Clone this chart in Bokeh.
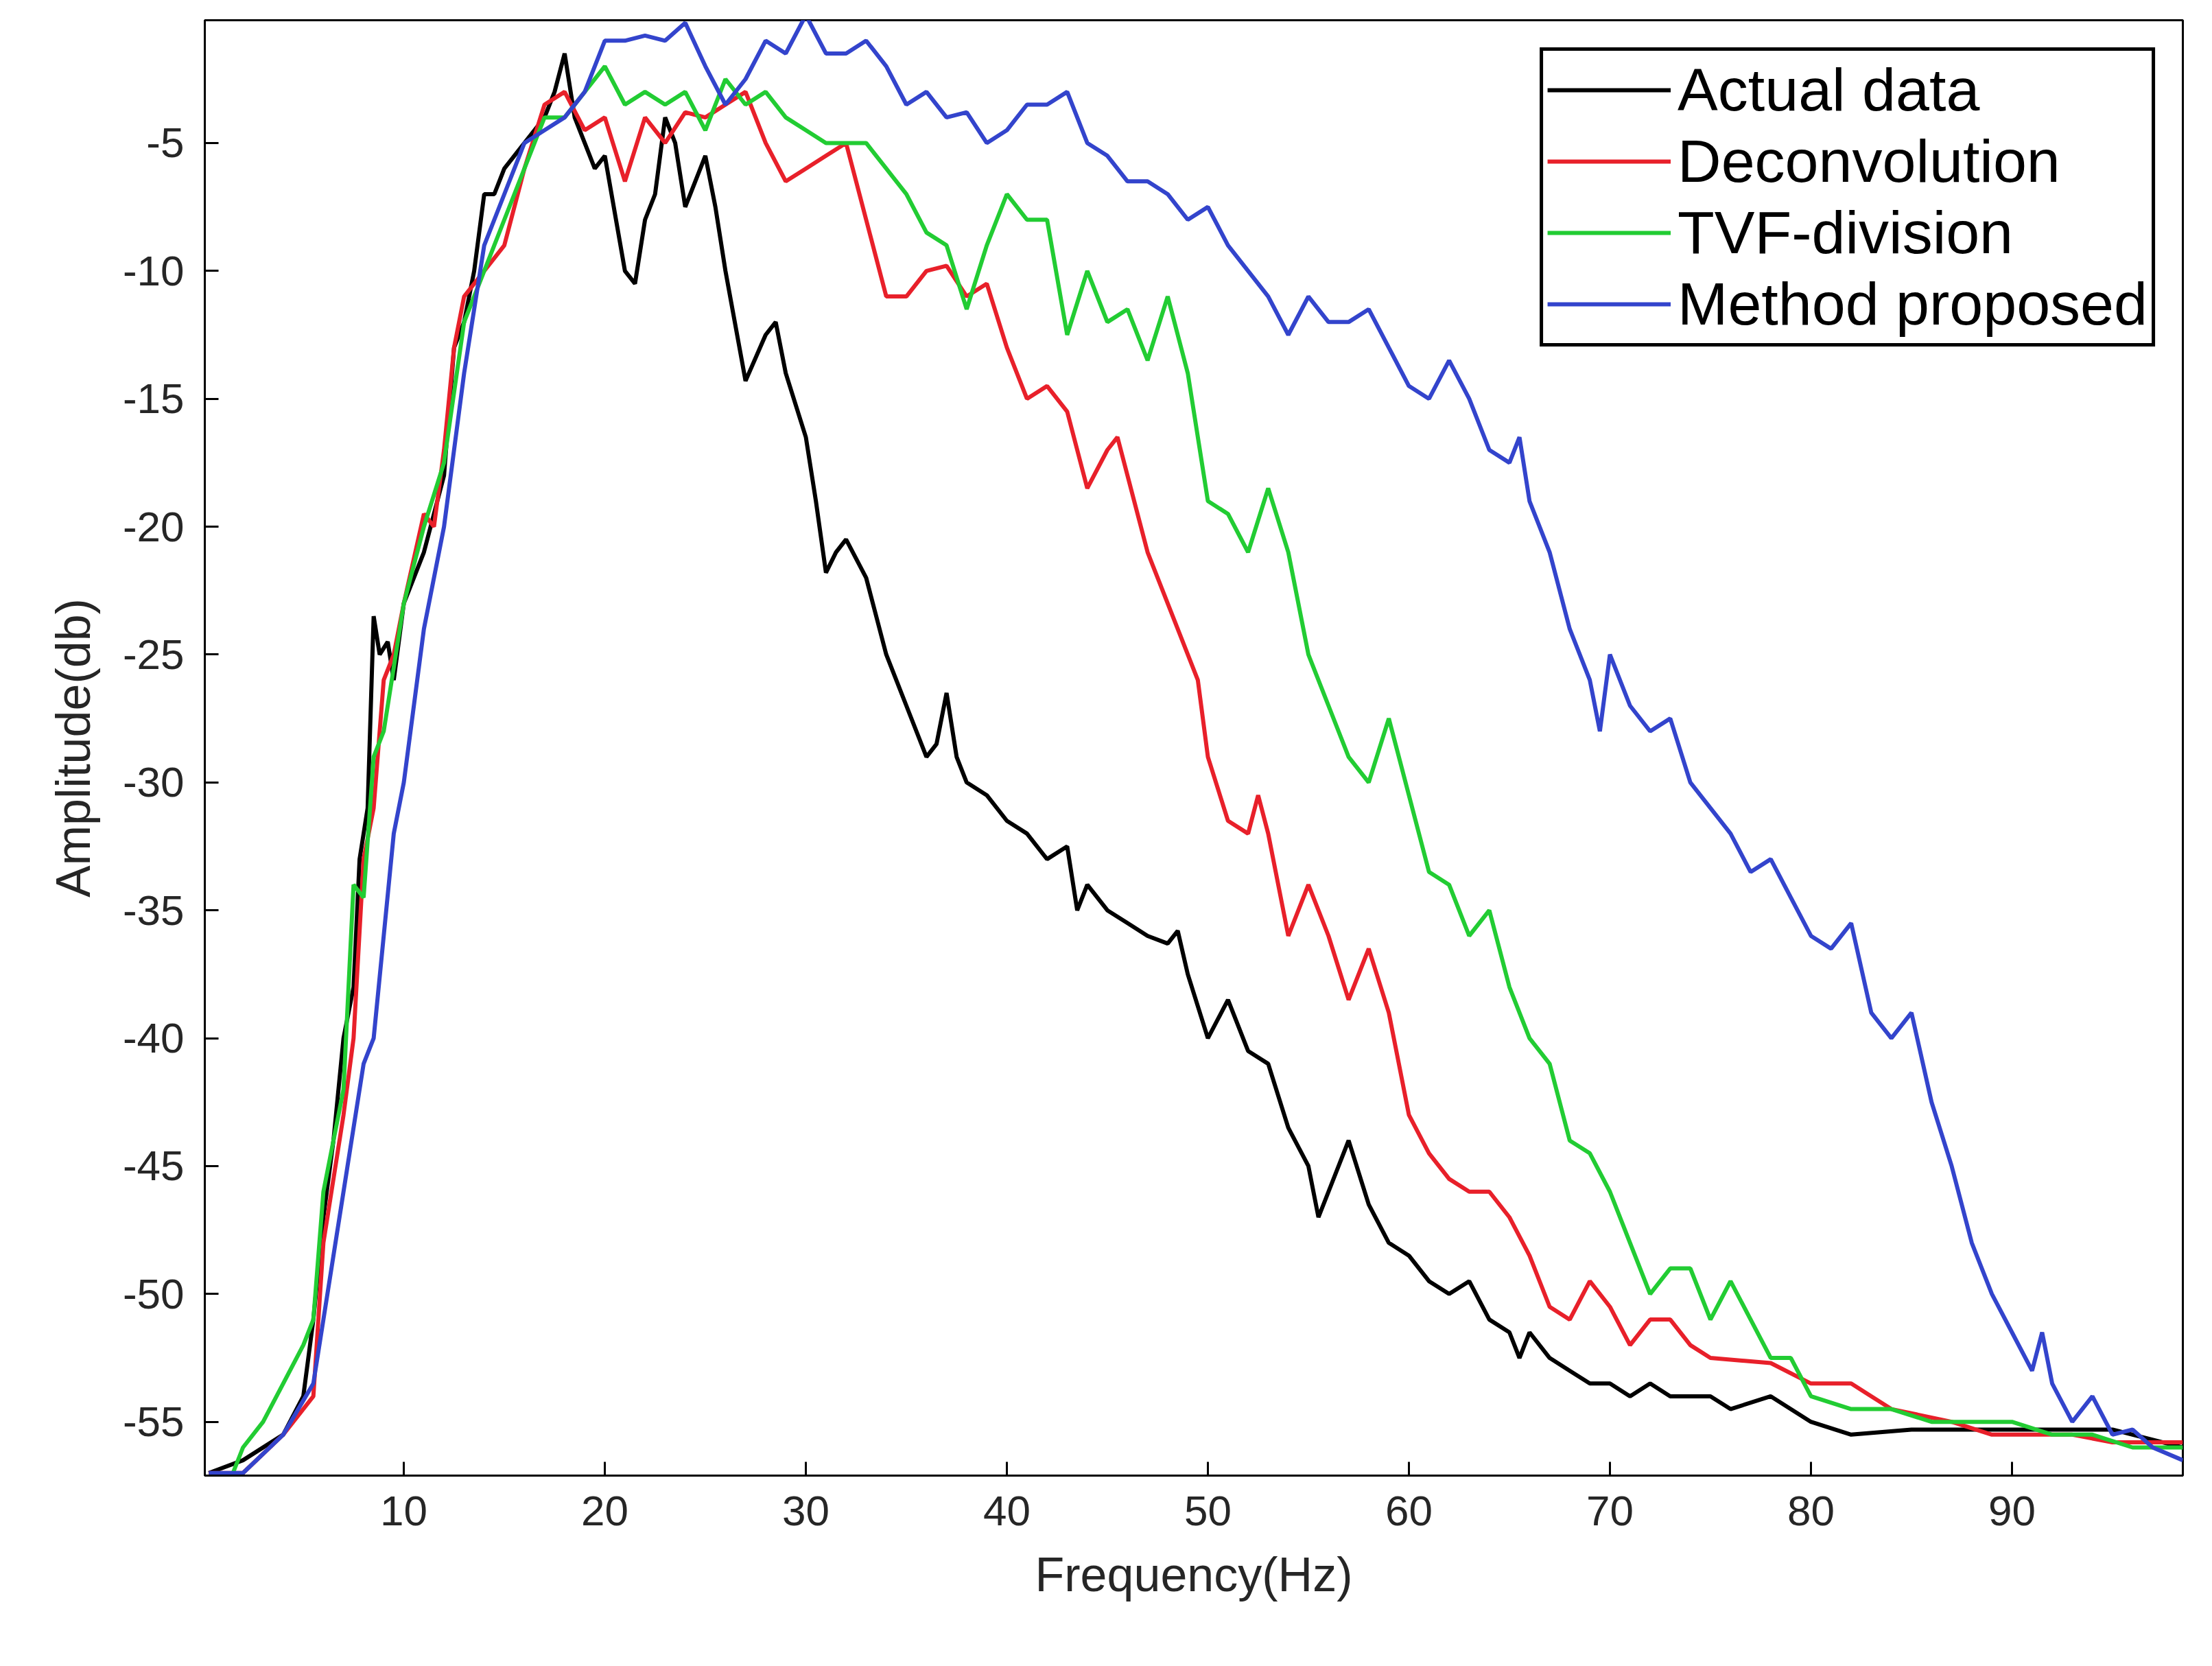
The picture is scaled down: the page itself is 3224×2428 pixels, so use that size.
from bokeh.plotting import figure
from bokeh.models import Range1d, Legend, LegendItem, FixedTicker, CustomJSTickFormatter
from bokeh.embed import file_html
from bokeh.resources import INLINE

act_x = [0.3,2,4,5,5.5,6,6.5,7,7.5,7.8,8.2,8.5,8.8,9.2,9.5,10,11,12,12.5,13,13.5,14,14.5,15,16,17,17.5,18,18.5,19,19.5,20,21,21.5,22,22.5,23,23.5,24,24.5,25,25.5,26,27,28,28.5,29,30,30.5,31,31.5,32,33,34,35,36,36.5,37,37.5,38,39,40,41,42,43,43.5,44,45,46,47,48,48.5,49,50,51,52,53,54,55,55.5,56,57,58,59,60,61,62,63,64,65,65.5,66,67,68,69,70,71,72,73,75,76,78,80,82,85,90,95,98.5]
act_y = [-57,-56.5,-55.5,-54,-51,-47,-44,-40,-38,-33,-31,-23.5,-25,-24.5,-26,-23,-21,-18,-13,-12,-10,-7,-7,-6,-5,-4,-3,-1.5,-4,-5,-6,-5.5,-10,-10.5,-8,-7,-4,-5,-7.5,-6.5,-5.5,-7.5,-10,-14.3,-12.5,-12,-14,-16.5,-19,-21.8,-21,-20.5,-22,-25,-27,-29,-28.5,-26.5,-29,-30,-30.5,-31.5,-32,-33,-32.5,-35,-34,-35,-35.5,-36,-36.3,-35.8,-37.5,-40,-38.5,-40.5,-41,-43.5,-45,-47,-46,-44,-46.5,-48,-48.5,-49.5,-50,-49.5,-51,-51.5,-52.5,-51.5,-52.5,-53,-53.5,-53.5,-54,-53.5,-54,-54,-54.5,-54,-55,-55.5,-55.3,-55.3,-55.3,-56]

dec_x = [0.3,2,4,5.5,6,7,7.5,8,8.5,9,9.5,10,11,11.5,12,12.5,13,14,15,16,17,18,19,20,21,22,23,24,25,26,27,28,29,30,31,32,33,34,35,36,37,38,39,40,41,42,43,44,45,45.5,46,47,48,49,49.5,50,51,52,52.5,53,54,55,56,57,58,59,60,61,62,63,64,65,66,67,68,69,70,71,72,73,74,75,78,80,82,84,87,89,91,93,95,98.5]
dec_y = [-57,-57,-55.5,-54,-48,-43,-40,-33,-31,-26,-25,-23,-19.5,-20,-17,-13,-11,-10,-9,-6,-3.5,-3,-4.5,-4,-6.5,-4,-5,-3.8,-4,-3.5,-3,-5,-6.5,-6,-5.5,-5,-8,-11,-11,-10,-9.8,-11,-10.5,-13,-15,-14.5,-15.5,-18.5,-17,-16.5,-18,-21,-23,-25,-26,-29,-31.5,-32,-30.5,-32,-36,-34,-36,-38.5,-36.5,-39,-43,-44.5,-45.5,-46,-46,-47,-48.5,-50.5,-51,-49.5,-50.5,-52,-51,-51,-52,-52.5,-52.7,-53.5,-53.5,-54.5,-55,-55.5,-55.5,-55.5,-55.8,-55.8]

tvf_x = [0.3,1.5,2,3,4,5,5.5,6,7,7.5,8,8.5,9,10,11,12,13,14,15,16,17,18,19,20,21,22,23,24,25,26,27,28,29,30,31,32,33,34,35,36,37,38,39,40,41,42,43,44,45,46,47,48,49,50,51,52,53,54,55,56,57,58,59,60,61,62,63,64,65,66,67,68,69,70,71,72,73,74,75,76,77,78,79,80,82,84,86,88,90,92,94,96,98.5]
tvf_y = [-57.2,-57,-56,-55,-53.5,-52,-51,-46,-42,-34,-34.5,-29,-28,-23,-20,-17.5,-12,-10,-8,-6,-4,-4,-3,-2,-3.5,-3,-3.5,-3,-4.5,-2.5,-3.5,-3,-4,-4.5,-5,-5,-5,-6,-7,-8.5,-9,-11.5,-9,-7,-8,-8,-12.5,-10,-12,-11.5,-13.5,-11,-14,-19,-19.5,-21,-18.5,-21,-25,-27,-29,-30,-27.5,-30.5,-33.5,-34,-36,-35,-38,-40,-41,-44,-44.5,-46,-48,-50,-49,-49,-51,-49.5,-51,-52.5,-52.5,-54,-54.5,-54.5,-55,-55,-55,-55.5,-55.5,-56,-56]

mp_x = [0.3,2,4,5.5,6,7,8,8.5,9,9.5,10,11,12,13,14,15,16,17,18,19,20,21,22,23,24,25,26,27,28,29,30,31,32,33,34,35,36,37,38,39,40,41,42,43,44,45,46,47,48,49,50,51,52,53,54,55,56,57,58,59,60,61,62,63,64,65,65.5,66,67,68,69,69.5,70,71,72,73,74,75,76,77,78,79,80,81,82,83,84,85,86,87,88,89,90,91,91.5,92,93,94,95,96,97,98.5]
mp_y = [-57,-57,-55.5,-53.5,-51,-46,-41,-40,-36,-32,-30,-24,-20,-14,-9,-7,-5,-4.5,-4,-3,-1,-1,-0.8,-1,-0.3,-2,-3.5,-2.5,-1,-1.5,0,-1.5,-1.5,-1,-2,-3.5,-3,-4,-3.8,-5,-4.5,-3.5,-3.5,-3,-5,-5.5,-6.5,-6.5,-7,-8,-7.5,-9,-10,-11,-12.5,-11,-12,-12,-11.5,-13,-14.5,-15,-13.5,-15,-17,-17.5,-16.5,-19,-21,-24,-26,-28,-25,-27,-28,-27.5,-30,-31,-32,-33.5,-33,-34.5,-36,-36.5,-35.5,-39,-40,-39,-42.5,-45,-48,-50,-51.5,-53,-51.5,-53.5,-55,-54,-55.5,-55.3,-56,-56.5]

x_ticks = [10,20,30,40,50,60,70,80,90]
y_ticks = [-55,-50,-45,-40,-35,-30,-25,-20,-15,-10,-5]

FONT = "Liberation Sans"
p = figure(width=3208, height=2412, output_backend="svg", toolbar_location=None,
           x_range=Range1d(0.1, 98.5), y_range=Range1d(-57.1, -0.2),
           min_border_left=298, min_border_top=29, min_border_right=27, min_border_bottom=262)
p.background_fill_color = "white"
p.grid.visible = False
p.outline_line_color = "black"
p.outline_line_width = 3
p.outline_line_alpha = 1

for ax in (p.xaxis[0], p.yaxis[0]):
    ax.major_label_text_font = FONT
    ax.major_label_text_font_size = "62px"
    ax.axis_label_text_font = FONT
    ax.axis_label_text_font_size = "70px"
    ax.axis_label_text_font_style = "normal"
    ax.axis_label_text_color = "#262626"
    ax.major_tick_in = 20
    ax.major_tick_out = 0
    ax.minor_tick_line_color = None
    ax.axis_line_width = 3
    ax.major_tick_line_width = 3
    ax.major_label_text_color = "#262626"
p.xaxis.ticker = FixedTicker(ticks=x_ticks)
p.yaxis.ticker = FixedTicker(ticks=y_ticks)
p.yaxis.formatter = CustomJSTickFormatter(code="return tick.toString();")
p.xaxis.axis_label = "Frequency(Hz)"
p.yaxis.axis_label = "Amplitude(db)"
p.xaxis.major_label_standoff = 30
p.yaxis.major_label_standoff = 30
p.xaxis.axis_label_standoff = 30
p.yaxis.axis_label_standoff = 30

r1 = p.line(act_x, act_y, line_color="black", line_width=6)
r2 = p.line(dec_x, dec_y, line_color="#e8202a", line_width=6)
r3 = p.line(tvf_x, tvf_y, line_color="#22cc33", line_width=6)
r4 = p.line(mp_x, mp_y, line_color="#3344cc", line_width=6)

legend = Legend(items=[LegendItem(label="Actual data", renderers=[r1]),
                       LegendItem(label="Deconvolution", renderers=[r2]),
                       LegendItem(label="TVF-division", renderers=[r3]),
                       LegendItem(label="Method proposed", renderers=[r4])],
                location="top_right", label_text_font=FONT, label_text_font_size="88px",
                label_text_color="black",
                glyph_width=180, glyph_height=100, label_height=100, spacing=2,
                padding=6, margin=40, border_line_color="black", border_line_width=5,
                border_line_alpha=1, label_standoff=10)
p.add_layout(legend)

open("out.html", "w").write(file_html(p, INLINE))
